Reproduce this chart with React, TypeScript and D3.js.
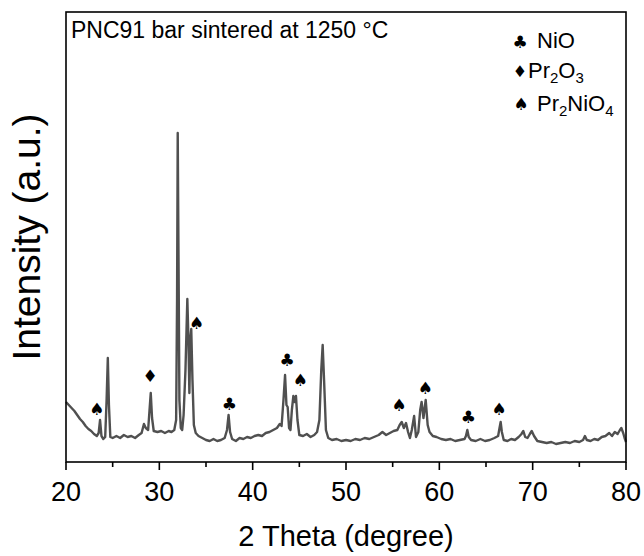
import React from 'react';
import * as d3 from 'd3';

const width = 644;
const height = 556;
const margin = { left: 66, right: 18, top: 12, bottom: 94 };

// 2 theta (degree) and intensity (counts)
const theta = [
  20.0, 20.3, 20.6, 20.9, 21.2, 21.5, 21.8, 22.1, 22.4, 22.7, 23.0, 23.3, 23.5, 23.65, 23.8, 24.0, 24.2, 24.35, 24.48, 24.6,
  24.75, 25.0, 25.4, 25.8, 26.2, 26.6, 27.0, 27.4, 27.8, 28.1, 28.35, 28.55, 28.8, 28.95, 29.08, 29.22, 29.4, 29.8, 30.2, 30.6,
  31.0, 31.3, 31.6, 31.8, 31.9, 31.97, 32.05, 32.15, 32.3, 32.45, 32.6, 32.8, 33.0, 33.12, 33.22, 33.32, 33.42, 33.55, 33.7, 33.9,
  34.2, 34.6, 35.0, 35.4, 35.8, 36.2, 36.6, 37.0, 37.25, 37.42, 37.58, 37.8, 38.2, 38.6, 39.0, 39.4, 39.8, 40.2, 40.6, 41.0,
  41.4, 41.8, 42.2, 42.6, 42.9, 43.1, 43.3, 43.47, 43.62, 43.75, 43.9, 44.05, 44.2, 44.36, 44.5, 44.64, 44.8, 45.0, 45.4, 45.8,
  46.2, 46.6, 46.9, 47.15, 47.35, 47.5, 47.65, 47.85, 48.1, 48.5, 49.0, 49.5, 50.0, 50.5, 51.0, 51.5, 52.0, 52.5, 53.0, 53.5,
  53.9, 54.3, 54.7, 55.1, 55.5, 55.75, 55.97, 56.2, 56.43, 56.65, 56.85, 57.05, 57.3, 57.5, 57.75, 57.95, 58.1, 58.3, 58.54, 58.75,
  58.95, 59.3, 59.7, 60.2, 60.7, 61.2, 61.7, 62.2, 62.7, 62.85, 63.0, 63.15, 63.4, 63.9, 64.4, 64.9, 65.4, 65.9, 66.3, 66.45,
  66.57, 66.7, 66.9, 67.3, 67.7, 68.1, 68.5, 68.8, 69.0, 69.2, 69.45, 69.7, 69.9, 70.15, 70.5, 71.0, 71.5, 72.0, 72.5, 73.0,
  73.5, 74.0, 74.5, 75.0, 75.4, 75.6, 75.8, 76.2, 76.6, 77.0, 77.4, 77.8, 78.2, 78.5, 78.8, 79.1, 79.35, 79.5, 79.7, 79.85,
  80.0,
];
const intensity = [
  1200, 1140, 1080, 1020, 940, 860, 800, 720, 660, 620, 560, 520, 580, 840, 520, 460, 500, 1240, 2080, 1140,
  500, 480, 520, 480, 540, 500, 520, 480, 540, 580, 760, 680, 640, 1040, 1380, 880, 620, 600, 620, 580,
  620, 600, 640, 840, 3240, 6580, 4240, 1240, 680, 640, 940, 1840, 3260, 2440, 1380, 2440, 2660, 1640, 740, 580,
  520, 480, 440, 420, 460, 420, 440, 480, 640, 940, 600, 460, 420, 480, 460, 500, 480, 520, 540, 520,
  580, 600, 640, 680, 760, 720, 1240, 1740, 1140, 1100, 680, 640, 1040, 1320, 1200, 1320, 840, 540, 520, 560,
  500, 540, 600, 840, 1840, 2340, 1640, 640, 480, 440, 460, 420, 440, 420, 460, 440, 480, 460, 500, 540,
  600, 540, 580, 620, 640, 740, 800, 680, 780, 600, 480, 640, 920, 500, 600, 1040, 1200, 880, 1240, 740,
  600, 520, 500, 460, 440, 460, 420, 440, 460, 520, 640, 500, 440, 420, 460, 420, 440, 480, 520, 680,
  800, 600, 440, 420, 460, 440, 500, 560, 620, 500, 480, 560, 620, 520, 420, 400, 380, 400, 360, 380,
  400, 380, 420, 400, 440, 520, 440, 420, 460, 440, 500, 520, 580, 520, 600, 560, 640, 680, 580, 480,
  400,
];

const xTicks = [20, 30, 40, 50, 60, 70, 80];
const xMinorTicks = [25, 35, 45, 55, 65, 75];

// phase markers above the peaks
const markTheta = [23.3, 29.0, 34.0, 37.5, 43.7, 45.1, 55.7, 58.5, 63.1, 66.4];
const markPhase = ['Pr2NiO4', 'Pr2O3', 'Pr2NiO4', 'NiO', 'NiO', 'Pr2NiO4', 'Pr2NiO4', 'Pr2NiO4', 'NiO', 'Pr2NiO4'];
const markLevel = [1060, 1720, 2780, 1160, 2040, 1640, 1140, 1480, 910, 1060];

const glyph: Record<string, string> = { NiO: '\u2663', Pr2O3: '\u2666', Pr2NiO4: '\u2660' };

const font = 'Liberation Sans, Arial, sans-serif';
const symFont = 'DejaVu Sans';

export default function App() {
  const x = d3.scaleLinear().domain([20, 80]).range([margin.left, width - margin.right]);
  const y = d3.scaleLinear().domain([0, 9000]).range([height - margin.bottom, margin.top]);
  const pts = theta.map((t, i) => [t, intensity[i]] as [number, number]);
  const line = d3.line<[number, number]>().x(d => x(d[0])).y(d => y(d[1]));
  const x0 = margin.left, x1 = width - margin.right;
  const y0 = height - margin.bottom, y1 = margin.top;

  return (
    <svg width={width} height={height} style={{ position: 'absolute', left: 0, top: 0, background: '#fff' }}>
      <path d={line(pts) || ''} fill="none" stroke="#505050" strokeWidth={2.4} strokeLinejoin="round" />
      <rect x={x0} y={y1} width={x1 - x0} height={y0 - y1} fill="none" stroke="#000" strokeWidth={1.6} />
      {xTicks.map(t => (
        <g key={'t' + t}>
          <line x1={x(t)} x2={x(t)} y1={y0} y2={y0 + 8} stroke="#000" strokeWidth={1.6} />
          <text x={x(t)} y={y0 + 39} textAnchor="middle" fontFamily={font} fontSize={27}>{t}</text>
        </g>
      ))}
      {xMinorTicks.map(t => (
        <line key={'m' + t} x1={x(t)} x2={x(t)} y1={y0} y2={y0 + 5} stroke="#000" strokeWidth={1.6} />
      ))}
      <text x={(x0 + x1) / 2} y={546} textAnchor="middle" fontFamily={font} fontSize={29}>2 Theta (degree)</text>
      <text transform={`translate(40,${(y0 + y1) / 2}) rotate(-90)`} textAnchor="middle" fontFamily={font} fontSize={39}>Intensity (a.u.)</text>
      {markTheta.map((t, i) => (
        <text key={'k' + i} x={x(t)} y={y(markLevel[i])} textAnchor="middle" dominantBaseline="central"
          fontFamily={symFont} fontSize={17} fill="#000">{glyph[markPhase[i]]}</text>
      ))}
      <text x={71} y={38} fontFamily={font} fontSize={23}>PNC91 bar sintered at 1250 °C</text>
      <g fontFamily={font} fontSize={22}>
        <text x={520} y={42} textAnchor="middle" dominantBaseline="central" fontFamily={symFont} fontSize={17}>{glyph.NiO}</text>
        <text x={537} y={48}>NiO</text>
        <text x={527} y={71} textAnchor="end" dominantBaseline="central" fontFamily={symFont} fontSize={16}>{glyph.Pr2O3}</text>
        <text x={528} y={78}>Pr<tspan dy={5} fontSize={15}>2</tspan><tspan dy={-5}>O</tspan><tspan dy={5} fontSize={15}>3</tspan></text>
        <text x={521} y={104} textAnchor="middle" dominantBaseline="central" fontFamily={symFont} fontSize={17}>{glyph.Pr2NiO4}</text>
        <text x={537} y={111}>Pr<tspan dy={5} fontSize={15}>2</tspan><tspan dy={-5}>NiO</tspan><tspan dy={5} fontSize={15}>4</tspan></text>
      </g>
    </svg>
  );
}
